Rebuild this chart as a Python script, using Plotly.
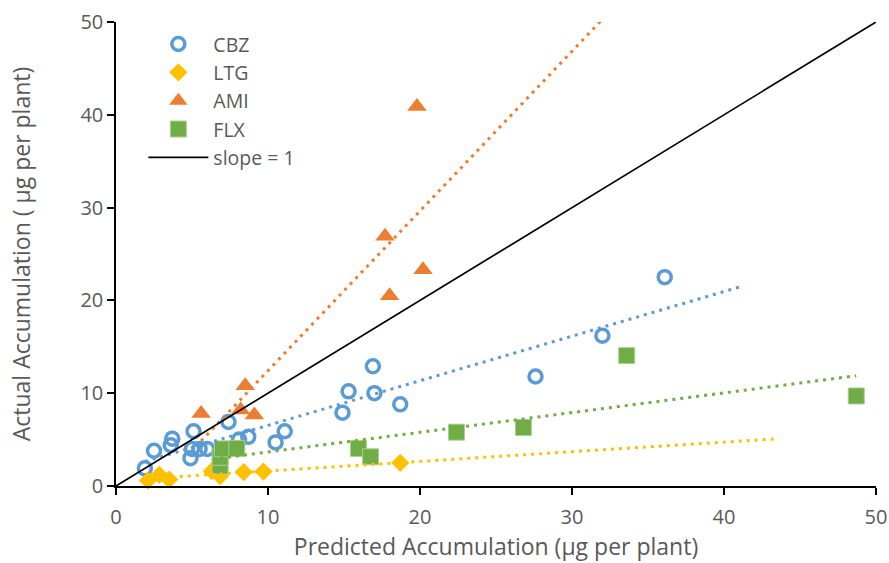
import numpy as np
import plotly.graph_objects as go

# Predicted vs actual accumulation (µg per plant) for four compounds
cbz_x = [1.9, 2.5, 3.6, 3.7, 4.9, 5.0, 5.1, 5.5, 6.0, 7.4, 8.1, 8.7, 10.5, 11.1,
         14.9, 15.3, 16.9, 17.0, 18.7, 27.6, 32.0, 36.1]
cbz_y = [1.9, 3.8, 4.4, 5.1, 3.0, 4.0, 5.9, 4.0, 4.0, 6.9, 5.0, 5.3, 4.7, 5.9,
         7.9, 10.2, 12.9, 10.0, 8.8, 11.8, 16.2, 22.5]

ltg_x = [2.1, 2.85, 3.5, 6.3, 6.85, 8.4, 9.7, 18.7]
ltg_y = [0.6, 1.2, 0.7, 1.6, 1.05, 1.5, 1.55, 2.5]

ami_x = [5.6, 8.2, 8.5, 9.1, 17.7, 18.0, 19.8, 20.2]
ami_y = [7.8, 8.2, 10.8, 7.65, 26.9, 20.5, 40.9, 23.3]

flx_x = [6.85, 6.85, 7.0, 7.95, 15.95, 16.75, 22.4, 26.8, 33.6, 48.7]
flx_y = [2.15, 3.1, 4.0, 4.05, 4.05, 3.15, 5.8, 6.3, 14.05, 9.7]

# forward forecast of each linear trendline (x units)
trend_forward = {"CBZ": 5.0, "LTG": 24.8, "AMI": 12.0, "FLX": 0.0}

identity_x = [0, 50]
identity_y = [0, 50]

FONT = "'Open Sans', 'Noto Sans', sans-serif"
GREY = "#595959"

series = [
    dict(name="CBZ", x=cbz_x, y=cbz_y, color="#5B9BD5",
         marker=dict(symbol="circle-open", size=13, color="#5B9BD5",
                     line=dict(width=3.5, color="#5B9BD5"))),
    dict(name="LTG", x=ltg_x, y=ltg_y, color="#FFC000",
         marker=dict(symbol="diamond", size=14, color="#FFC000",
                     line=dict(width=0))),
    dict(name="AMI", x=ami_x, y=ami_y, color="#ED7D31",
         marker=dict(symbol="triangle-up", size=17, color="#ED7D31",
                     line=dict(width=0))),
    dict(name="FLX", x=flx_x, y=flx_y, color="#70AD47",
         marker=dict(symbol="square", size=16, color="#70AD47",
                     line=dict(width=1, color="#A9D18E"))),
]

fig = go.Figure()

for s in series:
    fig.add_trace(go.Scatter(
        x=s["x"], y=s["y"], mode="markers", name=s["name"],
        marker=s["marker"], cliponaxis=False,
    ))

# least-squares trendlines, dotted
for s in series:
    slope, intercept = np.polyfit(s["x"], s["y"], 1)
    x0 = min(s["x"])
    x1 = max(s["x"]) + trend_forward[s["name"]]
    tx = np.array([x0, x1])
    fig.add_trace(go.Scatter(
        x=tx, y=slope * tx + intercept, mode="lines", showlegend=False,
        hoverinfo="skip",
        line=dict(color=s["color"], width=3, dash="3px,5px"),
    ))

fig.add_trace(go.Scatter(
    x=identity_x, y=identity_y, mode="lines", name="slope = 1",
    line=dict(color="black", width=1.7),
))

axis_common = dict(
    range=[0, 50], dtick=10, tick0=0, automargin=False,
    showgrid=False, zeroline=False,
    showline=True, linecolor="black", linewidth=1.5,
    ticks="outside", ticklen=7, tickwidth=1.5, tickcolor="black",
    tickfont=dict(family=FONT, size=20, color=GREY),
)

fig.update_layout(
    width=889, height=563,
    margin=dict(l=116, r=13, t=22, b=77),
    plot_bgcolor="white", paper_bgcolor="white",
    font=dict(family=FONT, color=GREY),
    xaxis=dict(
        **axis_common,
        ticklabelstandoff=5,
        title=dict(text="Predicted Accumulation (µg per plant)",
                   font=dict(family=FONT, size=23, color=GREY), standoff=5),
    ),
    yaxis=dict(
        **axis_common,
        title=dict(text="Actual Accumulation ( µg per plant)",
                   font=dict(family=FONT, size=23, color=GREY), standoff=43),
    ),
    legend=dict(
        x=0.036, y=0.994, xanchor="left", yanchor="top",
        bgcolor="rgba(0,0,0,0)",
        font=dict(family=FONT, size=19.5, color=GREY),
        itemwidth=60,
        tracegroupgap=0,
    ),
    showlegend=True,
)

fig.write_html("out.html")
